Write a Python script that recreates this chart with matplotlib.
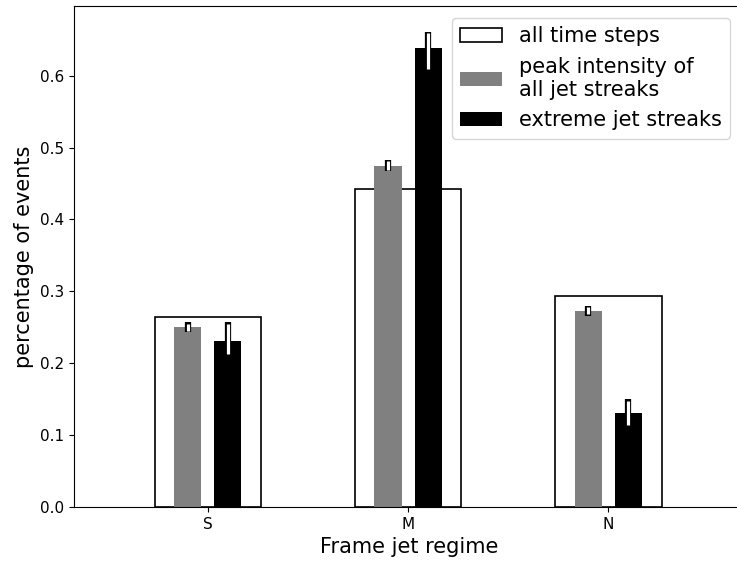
import matplotlib.pyplot as plt
import numpy as np

regimes = ['S', 'M', 'N']
all_steps = [0.264, 0.443, 0.293]
peak_all = [0.250, 0.475, 0.273]
extreme = [0.231, 0.638, 0.131]
peak_lo = [0.243, 0.467, 0.266]
peak_hi = [0.257, 0.483, 0.280]
ext_lo = [0.211, 0.607, 0.112]
ext_hi = [0.257, 0.661, 0.150]

x = np.arange(len(regimes))
fig = plt.figure(figsize=(7.37, 5.62), dpi=100)
ax = fig.add_axes([0.1004, 0.0979, 0.91, 0.8914])

ax.bar(x, all_steps, width=0.53, facecolor='white', edgecolor='black', lw=1.2,
       label='all time steps')
ax.bar(x - 0.1, peak_all, width=0.135, color='grey',
       label='peak intensity of\nall jet streaks')
ax.bar(x + 0.1, extreme, width=0.135, color='black', label='extreme jet streaks')

for off, lo, hi in [(-0.1, peak_lo, peak_hi), (0.1, ext_lo, ext_hi)]:
    for xi, l, h in zip(x + off, lo, hi):
        ax.plot([xi, xi], [l, h], color='black', lw=4.5, solid_capstyle='butt', zorder=3)
        ax.plot([xi, xi], [l + 0.002, h - 0.002], color='white', lw=2.3,
                solid_capstyle='butt', zorder=4)

ax.set_xlim(-0.667, 2.68)
ax.set_ylim(0, 0.697)
ax.set_xticks(x)
ax.set_xticklabels(regimes)
ax.tick_params(labelsize=11)
ax.set_xlabel('Frame jet regime', fontsize=15)
ax.set_ylabel('percentage of events', fontsize=15)
leg = ax.legend(loc='upper right', fontsize=15, bbox_to_anchor=(0.9935, 0.997))

fig.savefig('out.png', dpi=100)
